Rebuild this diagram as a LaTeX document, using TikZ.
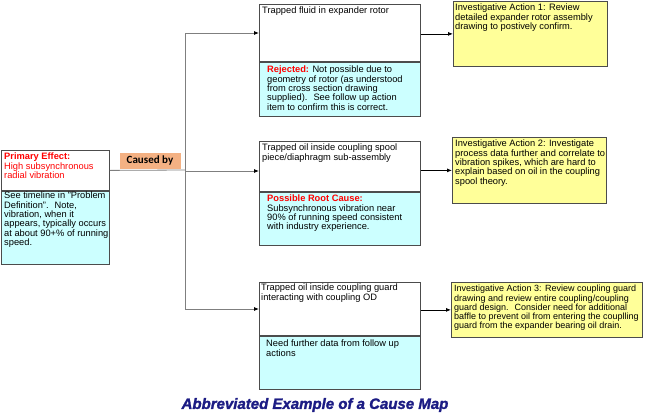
\documentclass[tikz,border=0pt]{standalone}
\usepackage{fontspec}
\setmainfont{Liberation Sans}
\newfontfamily\tagfont{Carlito}
\newfontfamily\titlefont[FakeBold=1.6]{Liberation Sans Bold Italic}
\usetikzlibrary{arrows.meta, positioning}
\definecolor{cyanbox}{HTML}{CCFFFF}
\definecolor{yellowbox}{HTML}{FFFF99}
\definecolor{tagorange}{HTML}{F4B183}
\definecolor{titleblue}{HTML}{1C1C84}
\definecolor{linegray}{HTML}{7F7F7F}

\begin{document}
\begin{tikzpicture}[
  x=1pt, y=-1pt,
  font=\fontsize{9.3}{9.3}\selectfont,
  whitebox/.style={rectangle, draw=black!70, fill=white, line width=0.8pt, inner sep=0pt, minimum width=161pt},
  cyanpart/.style={whitebox, fill=cyanbox},
  actbox/.style={rectangle, draw=black!70, fill=yellowbox, line width=0.8pt, inner sep=0pt, anchor=north west},
  txt/.style={anchor=north west, inner sep=0pt, align=left},
  link/.style={draw=linegray, line width=0.8pt},
  arr/.style={-{Latex[length=5pt, width=4pt, color=black]}, line width=0.8pt}
]
\useasboundingbox (0,0) rectangle (650,415);

% primary effect
\node[whitebox, minimum width=108, minimum height=40, anchor=north west] (eff) at (1,150) {};
\node[cyanpart, minimum width=108, minimum height=73, below=0pt of eff] (effd) {};
\node[txt, text=red] (efftxt) at (4,153) {\textbf{Primary Effect:}\\High subsynchronous\\radial vibration};
\node[txt] (effdtxt) at (4,192) {See timeline in "Problem\\Definition".~ Note,\\vibration, when it\\appears, typically occurs\\at about 90+\% of running\\speed.};

\node[rectangle, fill=tagorange, minimum width=61, minimum height=16, inner sep=0pt, font=\tagfont\bfseries\fontsize{11}{11}\selectfont] (causedby) at (150,160.5) {Caused by};

% causes
\node[whitebox, minimum height=57, anchor=north west] (c1) at (259,4) {};
\node[cyanpart, minimum height=54, below=0pt of c1] (c1d) {};
\node[whitebox, minimum height=50, anchor=north west] (c2) at (259,141) {};
\node[cyanpart, minimum height=53, below=0pt of c2] (c2d) {};
\node[whitebox, minimum height=53, anchor=north west] (c3) at (259,282) {};
\node[cyanpart, minimum height=53, below=0pt of c3] (c3d) {};

\node[txt] (c1txt) at (262,7) {Trapped fluid in expander rotor};
\node[txt] (c1dtxt) at (267,66) {\textcolor{red}{\textbf{Rejected:}} Not possible due to\\geometry of rotor (as understood\\from cross section drawing\\supplied).~ See follow up action\\item to confirm this is correct.};
\node[txt] (c2txt) at (262,144) {Trapped oil inside coupling spool\\piece/diaphragm sub-assembly};
\node[txt] (c2dtxt) at (267,195) {\textcolor{red}{\textbf{Possible Root Cause:}}\\Subsynchronous vibration near\\90\% of running speed consistent\\with industry experience.};
\node[txt] (c3txt) at (261,284) {Trapped oil inside coupling guard\\interacting with coupling OD};
\node[txt] (c3dtxt) at (266,340) {Need further data from follow up\\actions};

% investigative actions
\node[actbox, minimum width=154, minimum height=65] (a1) at (453,1) {};
\node[actbox, minimum width=154, minimum height=66] (a2) at (452,137) {};
\node[actbox, minimum width=191, minimum height=55] (a3) at (451,282) {};
\node[txt] (a1txt) at (455,4) {Investigative Action 1: Review\\detailed expander rotor assembly\\drawing to postively confirm.};
\node[txt] (a2txt) at (455,140) {Investigative Action 2: Investigate\\process data further and correlate to\\vibration spikes, which are hard to\\explain based on oil in the coupling\\spool theory.};
\node[txt, font=\fontsize{9}{9.3}\selectfont] (a3txt) at (454,285) {Investigative Action 3: Review coupling guard\\drawing and review entire coupling/coupling\\guard design.~ Consider need for additional\\baffle to prevent oil from entering the couplling\\guard from the expander bearing oil drain.};

% connectors
\coordinate (j) at (185,170);
\coordinate (j1) at (185,33);
\coordinate (j2) at (185,171);
\coordinate (j3) at (185,309);
\draw[link] (eff.east) -- (j);
\draw[link] (j1) -- (j3);
\draw[link, arr] (j1) -- (j1 -| c1.west);
\draw[link, arr] (j2) -- (j2 -| c2.west);
\draw[link, arr] (j3) -- (j3 -| c3.west);
\draw[arr] (a1.west -| c1.east) -- (a1.west);
\draw[arr] (a2.west -| c2.east) -- (a2.west);
\draw[arr] (a3.west -| c3.east) -- (a3.west);

\node[font=\titlefont\fontsize{15}{15}\selectfont, text=titleblue] (title) at (315,405) {Abbreviated Example of a Cause Map};
\end{tikzpicture}
\end{document}
